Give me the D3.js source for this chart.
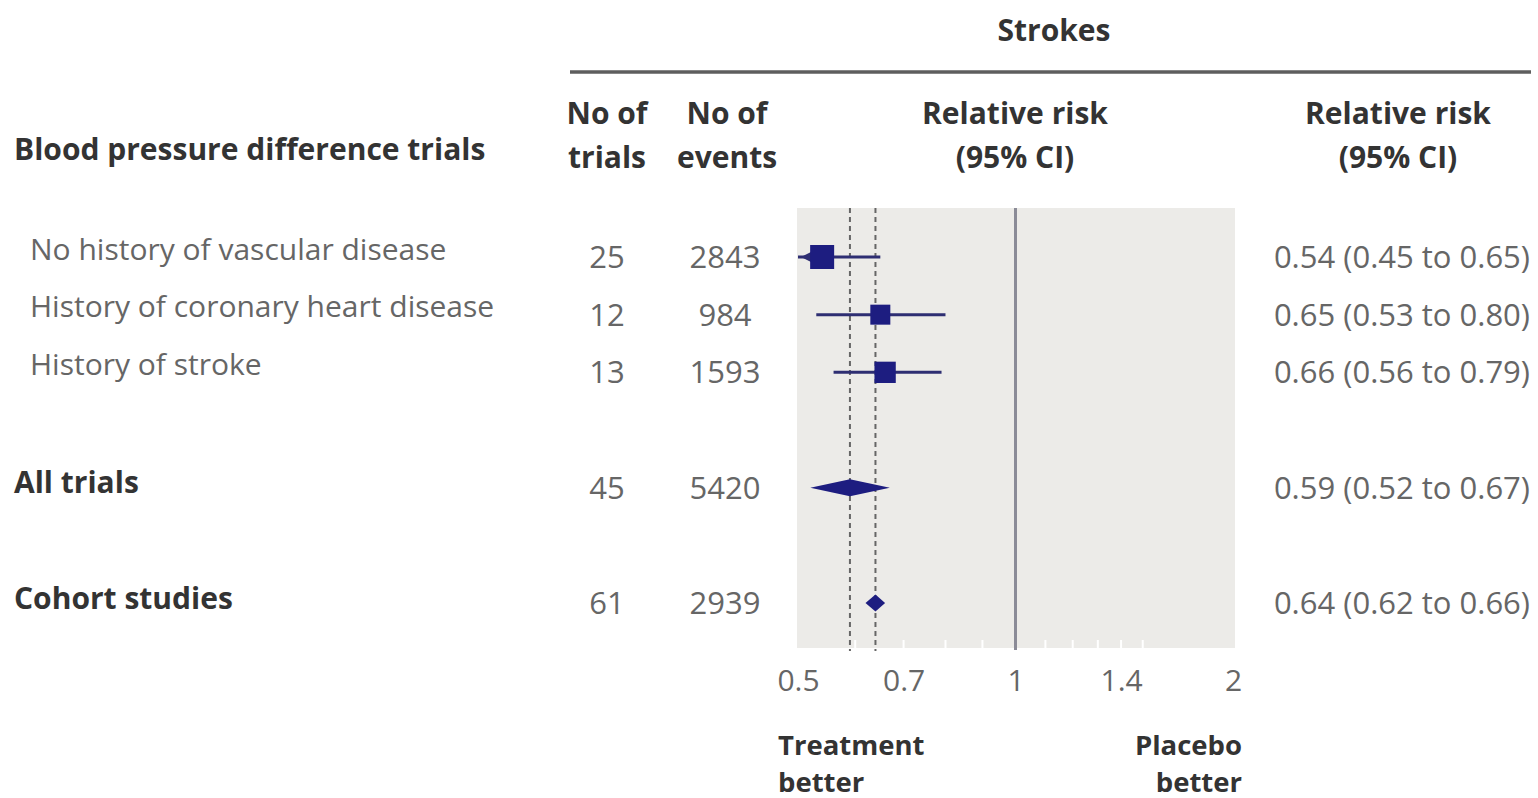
<!DOCTYPE html>
<html>
<head>
<meta charset="utf-8">
<script src="https://cdn.jsdelivr.net/npm/d3@7"></script>
<style>
  body { margin: 0; background: #fff; }
  svg text { font-family: "Open Sans", Lato, sans-serif; }
</style>
</head>
<body>
<svg id="chart" width="1538" height="798"></svg>
<script>
// Forest plot: stroke relative risk by trial group
const rowLabels = [
  "No history of vascular disease",
  "History of coronary heart disease",
  "History of stroke",
  "All trials",
  "Cohort studies"
];
const rowKinds = ["subgroup", "subgroup", "subgroup", "summary", "summary"];
const rowSlots = [0, 1, 2, 4, 6];
const nTrials = [25, 12, 13, 45, 61];
const nEvents = [2843, 984, 1593, 5420, 2939];
const rr = [0.54, 0.65, 0.66, 0.59, 0.64];
const ciLow = [0.45, 0.53, 0.56, 0.52, 0.62];
const ciHigh = [0.65, 0.80, 0.79, 0.67, 0.66];
const xTicks = [0.5, 0.7, 1, 1.4, 2];
const minorTicks = [0.6, 0.7, 0.8, 0.9, 1.1, 1.2, 1.3, 1.4, 1.5];

const rows = rowLabels.map((label, i) => ({
  label, kind: rowKinds[i], slot: rowSlots[i],
  trials: nTrials[i], events: nEvents[i],
  rr: rr[i], lo: ciLow[i], hi: ciHigh[i]
}));

const svg = d3.select("#chart");
const fmt2 = d3.format(".2f");
const bodySize = 30, boldSize = 30, numSize = 31, footSize = 27.5;

const x = d3.scaleLog().domain([0.5, 2]).range([798, 1233]);
const y = d3.scaleLinear().domain([0, 6]).range([257, 603]);
const subRows = rows.filter(r => r.kind === "subgroup");
const boxSize = d3.scaleLinear().domain(d3.extent(subRows, r => r.events)).range([20, 24]);

const panelTop = 208, panelBottom = 648;
const navy = "#1d1d80";
const lineNavy = "#2e2e72";

// Header
svg.append("text").attr("x", 1054).attr("y", 30).attr("dy", "0.35em")
  .attr("text-anchor", "middle").attr("font-size", boldSize).attr("font-weight", 700)
  .attr("fill", "#333").text("Strokes");
svg.append("line").attr("x1", 570).attr("x2", 1531).attr("y1", 72).attr("y2", 72)
  .attr("stroke", "#5e5e5e").attr("stroke-width", 3.5);

const headers = [
  { cx: 607, lines: ["No of", "trials"] },
  { cx: 727, lines: ["No of", "events"] },
  { cx: 1015, lines: ["Relative risk", "(95% CI)"] },
  { cx: 1398, lines: ["Relative risk", "(95% CI)"] }
];
headers.forEach(h => {
  h.lines.forEach((t, k) => {
    svg.append("text").attr("x", h.cx).attr("y", 113 + k * 44).attr("dy", "0.35em")
      .attr("text-anchor", "middle").attr("font-size", boldSize).attr("font-weight", 700)
      .attr("fill", "#333").text(t);
  });
});
svg.append("text").attr("x", 14).attr("y", 149).attr("dy", "0.35em")
  .attr("font-size", boldSize).attr("font-weight", 700).attr("fill", "#333")
  .text("Blood pressure difference trials");

// Plot panel
svg.append("rect")
  .attr("x", x(0.5) - 1).attr("y", panelTop)
  .attr("width", x(2) - x(0.5) + 3).attr("height", panelBottom - panelTop)
  .attr("fill", "#ecebe8");

// White minor ticks along the panel floor
svg.append("g").selectAll("line").data(minorTicks).join("line")
  .attr("x1", d => x(d)).attr("x2", d => x(d))
  .attr("y1", panelBottom - 8).attr("y2", panelBottom)
  .attr("stroke", "#fff").attr("stroke-width", 2);

// Line of no effect
svg.append("line").attr("x1", x(1)).attr("x2", x(1))
  .attr("y1", panelTop).attr("y2", panelBottom + 2)
  .attr("stroke", "#8b8b97").attr("stroke-width", 3);

// Dashed lines at the pooled estimates
const pooled = rows.filter(r => r.kind === "summary").map(r => r.rr);
svg.append("g").selectAll("line").data(pooled).join("line")
  .attr("x1", d => x(d)).attr("x2", d => x(d))
  .attr("y1", panelTop).attr("y2", panelBottom + 3)
  .attr("stroke", "#666").attr("stroke-width", 2)
  .attr("stroke-dasharray", "5,4");

// Axis
const axis = d3.axisBottom(x).tickValues(xTicks).tickFormat(d3.format("~g"))
  .tickSize(0).tickPadding(22);
const gAxis = svg.append("g").attr("transform", `translate(0,${panelBottom})`).call(axis);
gAxis.select(".domain").remove();
gAxis.selectAll("text").attr("font-size", bodySize).attr("fill", "#666")
  .attr("font-family", "'Open Sans', Lato, sans-serif");

// Row labels and numbers
const rowG = svg.append("g").selectAll("g").data(rows).join("g")
  .attr("transform", d => `translate(0,${y(d.slot)})`);

rowG.append("text")
  .attr("x", d => d.kind === "subgroup" ? 30 : 14)
  .attr("y", d => d.kind === "subgroup" ? -8 : -5)
  .attr("dy", "0.35em")
  .attr("font-size", d => d.kind === "subgroup" ? bodySize : boldSize)
  .attr("font-weight", d => d.kind === "subgroup" ? 400 : 700)
  .attr("fill", d => d.kind === "subgroup" ? "#666" : "#333")
  .text(d => d.label);

rowG.append("text").attr("x", 607).attr("dy", "0.35em").attr("text-anchor", "middle")
  .attr("font-size", numSize).attr("fill", "#666").text(d => d.trials);
rowG.append("text").attr("x", 725).attr("dy", "0.35em").attr("text-anchor", "middle")
  .attr("font-size", numSize).attr("fill", "#666").text(d => d.events);
rowG.append("text").attr("x", 1530).attr("dy", "0.35em").attr("text-anchor", "end")
  .attr("font-size", numSize).attr("fill", "#666")
  .text(d => `${fmt2(d.rr)} (${fmt2(d.lo)} to ${fmt2(d.hi)})`);

// Subgroup estimates: CI line, arrow when clipped, square
const [dMin] = x.domain();
const subG = rowG.filter(d => d.kind === "subgroup");
subG.append("line")
  .attr("x1", d => x(Math.max(d.lo, dMin))).attr("x2", d => x(d.hi))
  .attr("stroke", lineNavy).attr("stroke-width", 3);
subG.filter(d => d.lo < dMin).append("path")
  .attr("d", () => {
    const x0 = x(dMin) + 3;
    return `M${x0},0L${x0 + 10},-5L${x0 + 10},5Z`;
  })
  .attr("fill", lineNavy);
subG.append("rect")
  .attr("x", d => x(d.rr) - boxSize(d.events) / 2)
  .attr("y", d => -boxSize(d.events) / 2)
  .attr("width", d => boxSize(d.events)).attr("height", d => boxSize(d.events))
  .attr("fill", navy);

// Pooled estimates as diamonds
rowG.filter(d => d.kind === "summary").append("path")
  .attr("d", d => `M${x(d.lo)},0L${x(d.rr)},-8.5L${x(d.hi)},0L${x(d.rr)},8.5Z`)
  .attr("fill", navy);

// Direction labels
const dirLabels = [
  { x: 778, anchor: "start", lines: ["Treatment", "better"] },
  { x: 1242, anchor: "end", lines: ["Placebo", "better"] }
];
dirLabels.forEach(lbl => {
  lbl.lines.forEach((t, k) => {
    svg.append("text").attr("x", lbl.x).attr("y", 745 + k * 37).attr("dy", "0.35em")
      .attr("text-anchor", lbl.anchor).attr("font-size", footSize).attr("font-weight", 700)
      .attr("fill", "#333").text(t);
  });
});
</script>
</body>
</html>
